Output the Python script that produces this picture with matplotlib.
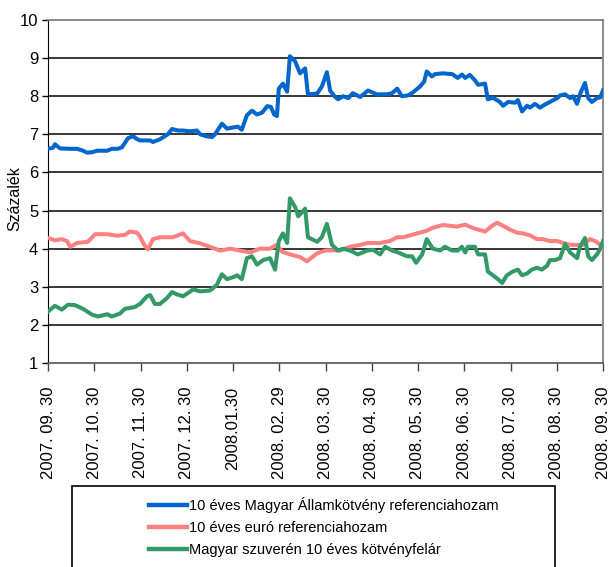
import matplotlib
matplotlib.use("Agg")
import matplotlib.pyplot as plt
from matplotlib import font_manager
from matplotlib.lines import Line2D
from matplotlib.patches import Rectangle

names = {f.name for f in font_manager.fontManager.ttflist}
base_font = "Liberation Sans" if "Liberation Sans" in names else "DejaVu Sans"
plt.rcParams["font.family"] = [base_font, "DejaVu Sans"]

# ---- data (x in months since 2007.09.30) ----
tick_labels = ["2007. 09. 30", "2007. 10. 30", "2007. 11. 30", "2007. 12. 30",
               "2008.01.30", "2008. 02. 29", "2008. 03. 30", "2008. 04. 30",
               "2008. 05. 30", "2008. 06. 30", "2008. 07. 30", "2008. 08. 30",
               "2008. 09. 30"]

huf_x = [0, 0.11, 0.15, 0.26, 0.48, 0.63, 0.76, 0.84, 0.95, 1.06, 1.28, 1.38, 1.51, 1.60,
         1.73, 1.84, 1.92, 1.99, 2.21, 2.27, 2.42, 2.59, 2.68, 2.81, 2.92, 3.07, 3.22, 3.29,
         3.42, 3.55, 3.61, 3.76, 3.87, 4.00, 4.11, 4.19, 4.30, 4.41, 4.52, 4.63, 4.74, 4.82,
         4.89, 4.95, 4.99, 5.08, 5.17, 5.23, 5.34, 5.45, 5.56, 5.62, 5.82, 5.92, 6.03, 6.10,
         6.18, 6.27, 6.38, 6.49, 6.59, 6.75, 6.92, 7.11, 7.33, 7.44, 7.55, 7.65, 7.78, 7.89,
         8.04, 8.13, 8.19, 8.30, 8.37, 8.54, 8.74, 8.86, 8.95, 9.02, 9.12, 9.23, 9.30, 9.45,
         9.51, 9.62, 9.77, 9.84, 9.95, 10.10, 10.16, 10.25, 10.36, 10.42, 10.53, 10.64, 10.70,
         10.85, 11.01, 11.07, 11.18, 11.29, 11.35, 11.44, 11.50, 11.61, 11.68, 11.76, 11.87,
         11.94, 12.00]
huf_y = [6.62, 6.65, 6.74, 6.63, 6.62, 6.62, 6.57, 6.52, 6.53, 6.57, 6.57, 6.62, 6.62, 6.66,
         6.90, 6.95, 6.88, 6.84, 6.84, 6.80, 6.87, 7.00, 7.14, 7.10, 7.10, 7.08, 7.10, 7.00,
         6.95, 6.93, 7.00, 7.28, 7.15, 7.18, 7.20, 7.12, 7.50, 7.62, 7.52, 7.57, 7.74, 7.72,
         7.52, 7.48, 8.20, 8.33, 8.12, 9.05, 8.92, 8.60, 8.73, 8.05, 8.07, 8.25, 8.63, 8.15,
         8.02, 7.92, 8.00, 7.95, 8.08, 7.98, 8.15, 8.05, 8.05, 8.08, 8.20, 8.00, 8.02, 8.10,
         8.25, 8.38, 8.65, 8.52, 8.58, 8.60, 8.58, 8.48, 8.57, 8.48, 8.56, 8.42, 8.30, 8.33,
         7.92, 7.96, 7.85, 7.75, 7.85, 7.83, 7.90, 7.60, 7.75, 7.70, 7.80, 7.70, 7.75,
         7.85, 7.95, 8.02, 8.05, 7.95, 8.00, 7.80, 8.05, 8.35, 7.95, 7.85, 7.95,
         7.97, 8.15]

eur_x = [0, 0.15, 0.30, 0.41, 0.48, 0.63, 0.86, 1.02, 1.28, 1.49, 1.66, 1.77, 1.92, 1.99,
         2.08, 2.16, 2.27, 2.42, 2.57, 2.70, 2.92, 3.07, 3.29, 3.50, 3.72, 3.94, 4.15, 4.37,
         4.58, 4.80, 4.95, 5.06, 5.23, 5.45, 5.60, 5.82, 5.99, 6.16, 6.31, 6.53, 6.75, 6.92,
         7.18, 7.39, 7.55, 7.68, 7.83, 7.98, 8.19, 8.32, 8.54, 8.84, 9.02, 9.17, 9.30, 9.45,
         9.60, 9.71, 9.84, 9.99, 10.14, 10.27, 10.42, 10.57, 10.70, 10.85, 11.01, 11.14,
         11.29, 11.44, 11.57, 11.72, 11.83, 11.94, 12.00]
eur_y = [4.28, 4.22, 4.25, 4.20, 4.05, 4.15, 4.18, 4.38, 4.38, 4.34, 4.36, 4.45, 4.42, 4.32,
         4.10, 3.98, 4.25, 4.30, 4.30, 4.30, 4.40, 4.20, 4.14, 4.05, 3.95, 4.00, 3.95, 3.90,
         4.00, 4.00, 4.10, 3.92, 3.85, 3.78, 3.67, 3.88, 3.95, 3.96, 3.95, 4.05, 4.10, 4.15,
         4.15, 4.20, 4.30, 4.30, 4.35, 4.40, 4.47, 4.55, 4.62, 4.58, 4.63, 4.55, 4.50, 4.45,
         4.60, 4.68, 4.60, 4.50, 4.42, 4.40, 4.35, 4.25, 4.25, 4.20, 4.20, 4.15,
         4.10, 4.10, 4.10, 4.25, 4.20, 4.10, 4.00]

spr_x = [0, 0.15, 0.30, 0.43, 0.58, 0.76, 0.95, 1.08, 1.28, 1.38, 1.56, 1.66, 1.88, 1.99,
         2.14, 2.21, 2.31, 2.42, 2.57, 2.68, 2.79, 2.92, 3.14, 3.29, 3.50, 3.65, 3.76, 3.87,
         4.00, 4.09, 4.19, 4.30, 4.41, 4.52, 4.65, 4.80, 4.91, 4.99, 5.08, 5.17, 5.23, 5.34,
         5.41, 5.56, 5.62, 5.82, 5.92, 6.03, 6.14, 6.27, 6.38, 6.53, 6.70, 6.90, 7.03, 7.18,
         7.29, 7.44, 7.57, 7.76, 7.87, 7.96, 8.09, 8.19, 8.32, 8.48, 8.58, 8.74, 8.86, 8.95,
         9.02, 9.08, 9.23, 9.30, 9.45, 9.51, 9.62, 9.73, 9.82, 9.92, 10.05, 10.16, 10.25,
         10.36, 10.46, 10.57, 10.68, 10.79, 10.85, 10.96, 11.07, 11.18, 11.29, 11.44, 11.50,
         11.61, 11.68, 11.76, 11.87, 11.94, 12.00]
spr_y = [2.35, 2.50, 2.40, 2.53, 2.52, 2.42, 2.27, 2.22, 2.28, 2.22, 2.30, 2.42, 2.47, 2.55,
         2.75, 2.78, 2.55, 2.55, 2.70, 2.86, 2.80, 2.75, 2.93, 2.88, 2.90, 3.05, 3.33, 3.20,
         3.25, 3.30, 3.20, 3.75, 3.80, 3.58, 3.70, 3.75, 3.45, 4.20, 4.40, 4.15, 5.32, 5.10,
         4.85, 5.05, 4.30, 4.18, 4.30, 4.65, 4.10, 3.95, 4.00, 3.95, 3.85, 3.95, 3.97, 3.85,
         4.05, 3.95, 3.90, 3.80, 3.80, 3.63, 3.85, 4.25, 4.00, 3.95, 4.05, 3.95, 3.95, 4.05,
         3.90, 4.05, 4.05, 3.85, 3.85, 3.40, 3.30, 3.20, 3.10, 3.30, 3.40, 3.45, 3.30,
         3.35, 3.45, 3.50, 3.45, 3.55, 3.70, 3.70, 3.75, 4.12, 3.90, 3.75, 4.05,
         4.28, 3.80, 3.70, 3.85, 4.00, 4.20]

labels = ["10 éves Magyar Államkötvény referenciahozam",
          "10 éves euró referenciahozam",
          "Magyar szuverén 10 éves kötvényfelár"]
colors = ["#0066CC", "#FF8080", "#339966"]

W, H = 610, 567
fig = plt.figure(figsize=(W / 100, H / 100), dpi=100)
ax = fig.add_axes([48 / W, 1 - 363 / H, (603 - 48) / W, (363 - 20) / H])

lw = 2.9
ax.plot(huf_x, huf_y, color=colors[0], lw=lw, solid_joinstyle="round", zorder=3)
ax.plot(eur_x, eur_y, color=colors[1], lw=lw, solid_joinstyle="round", zorder=3)
ax.plot(spr_x, spr_y, color=colors[2], lw=lw, solid_joinstyle="round", zorder=4)

ax.set_xlim(0, 12)
ax.set_ylim(1, 10)
ax.set_yticks(range(1, 11))
ax.set_xticks(range(13))
ax.set_xticklabels(tick_labels, rotation=90, fontsize=12)
ax.tick_params(axis="y", labelsize=12, length=4, width=1, direction="out", pad=3)
ax.tick_params(axis="x", length=6, width=1, direction="out", pad=11, color="#444444")
for v in range(2, 10):
    ax.axhline(v, color="black", lw=1.1, zorder=1)
ax.spines["top"].set_color("#808080")
ax.spines["top"].set_linewidth(1.3)
ax.spines["right"].set_color("#909090")
ax.spines["right"].set_linewidth(1.5)
ax.spines["left"].set_color("black")
ax.spines["bottom"].set_color("#606060")
ax.spines["bottom"].set_linewidth(1.3)
ax.set_ylabel("Százalék", fontsize=11.5)
ax.yaxis.set_label_coords((22 - 48) / 555, 0.48)

# legend
fig.patches.append(Rectangle((72 / W, -0.05), (555 - 72) / W, 1 - 486 / H + 0.05,
                             transform=fig.transFigure, fill=False, edgecolor="black",
                             lw=1.2))
handles = [Line2D([], [], color=c, lw=3.2) for c in colors]
fig.legend(handles, labels, loc="upper left", bbox_to_anchor=(146 / W, 1 - 494 / H),
           frameon=False, handlelength=2.6, handletextpad=0.12, labelspacing=0.55,
           prop={"size": 10.5}, borderaxespad=0, borderpad=0.2)

fig.savefig("out.png", dpi=100)
